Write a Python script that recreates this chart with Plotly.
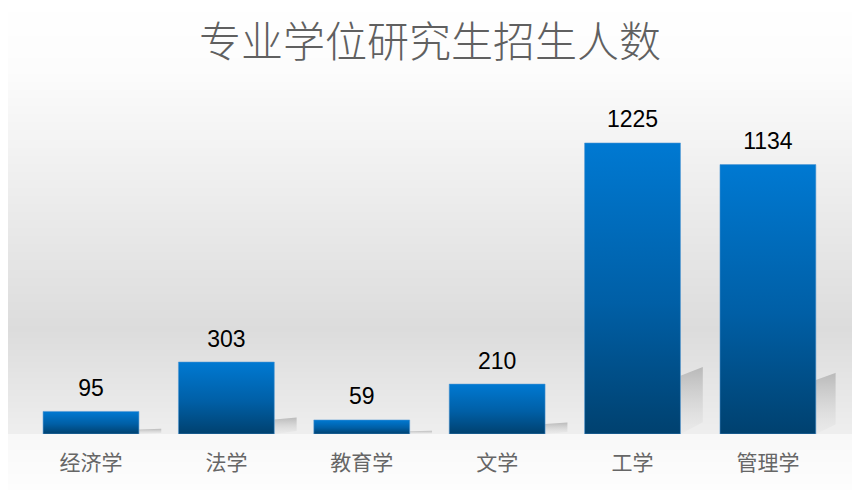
import plotly.graph_objects as go

categories = ["经济学", "法学", "教育学", "文学", "工学", "管理学"]
enrolment = [95, 303, 59, 210, 1225, 1134]

title_text = "专业学位研究生招生人数"

# the page body adds an 8px margin, so the figure is drawn 8px smaller
W, H = 852, 482
OFF = 8
half = 0.354  # half bar width in category units

# slide-like backdrop (screen pixel rows): grey band fading to white, cut at the baseline
bg_stops = [(0, 255), (70, 252), (200, 236), (330, 220), (433, 238), (434, 248), (490, 253)]


def grey_at(py):
    for (p0, g0), (p1, g1) in zip(bg_stops[:-1], bg_stops[1:]):
        if p0 <= py <= p1:
            t = 0 if p1 == p0 else (py - p0) / (p1 - p0)
            g = round(g0 + (g1 - g0) * t)
            return "rgb(%d,%d,%d)" % (g, g, g)
    return "rgb(253,253,253)"


shapes = []
step = 2
for py in range(0, H, step):
    shapes.append(dict(
        type="rect", xref="paper", yref="paper", layer="below",
        x0=0, x1=1, y0=max(0, 1 - (py + step + 0.5) / H), y1=1 - py / H,
        fillcolor=grey_at(py + OFF + step / 2), line=dict(width=0),
    ))

fig = go.Figure()

bar_scale = [[0, "#00416f"], [0.45, "#005fa6"], [1, "#0079d2"]]
shadow_scale = [[0, "rgba(220,220,220,0.2)"], [1, "rgba(180,180,180,0.9)"]]

for i, v in enumerate(enrolment):
    r = i + half
    # soft cast shadow to the right of each bar
    fig.add_trace(go.Scatter(
        x=[r, r, r + 0.165, r + 0.165, r],
        y=[0, v * 0.2, v * 0.23, v * 0.04, 0],
        fill="toself", mode="lines", line=dict(width=0),
        fillgradient=dict(type="vertical", colorscale=shadow_scale),
        hoverinfo="skip", showlegend=False,
    ))

for i, v in enumerate(enrolment):
    fig.add_trace(go.Scatter(
        x=[i - half, i + half, i + half, i - half, i - half],
        y=[0, 0, v, v, 0],
        fill="toself", mode="lines", line=dict(width=0.8, color="rgba(80,150,210,0.7)"),
        fillgradient=dict(type="vertical", colorscale=bar_scale),
        name=categories[i], showlegend=False,
    ))

# value labels, lifted a little above the bar tops by an invisible marker
fig.add_trace(go.Scatter(
    x=list(range(len(categories))), y=enrolment,
    mode="markers+text", text=[str(v) for v in enrolment],
    textposition="top center",
    marker=dict(size=14, opacity=0),
    textfont=dict(family="Liberation Sans, Arial", size=23, color="#000000"),
    hoverinfo="skip", showlegend=False,
))

fig.update_layout(
    width=W, height=H,
    margin=dict(l=0, r=0, t=0, b=0),
    paper_bgcolor="white",
    plot_bgcolor="rgba(0,0,0,0)",
    shapes=shapes,
    title=dict(
        text=title_text, x=(430 - OFF) / W, xanchor="center",
        y=1 - (42 - OFF) / H, yanchor="middle", yref="container",
        font=dict(family="Noto Sans CJK SC", size=42, color="#606060", weight=300),
    ),
    xaxis=dict(
        domain=[(23.3 - OFF) / W, (835.6 - OFF) / W], range=[-0.5, 5.5],
        tickvals=list(range(len(categories))), ticktext=categories,
        tickfont=dict(family="Noto Sans CJK SC", size=21, color="#666666"),
        showgrid=False, zeroline=False, showline=False, ticks="",
        ticklabelstandoff=14, fixedrange=True,
    ),
    yaxis=dict(
        domain=[(490 - 434) / H, (490 - 101.4) / H], range=[0, 1400],
        visible=False, showgrid=False, zeroline=False, fixedrange=True,
    ),
)

fig.write_html("out.html")
